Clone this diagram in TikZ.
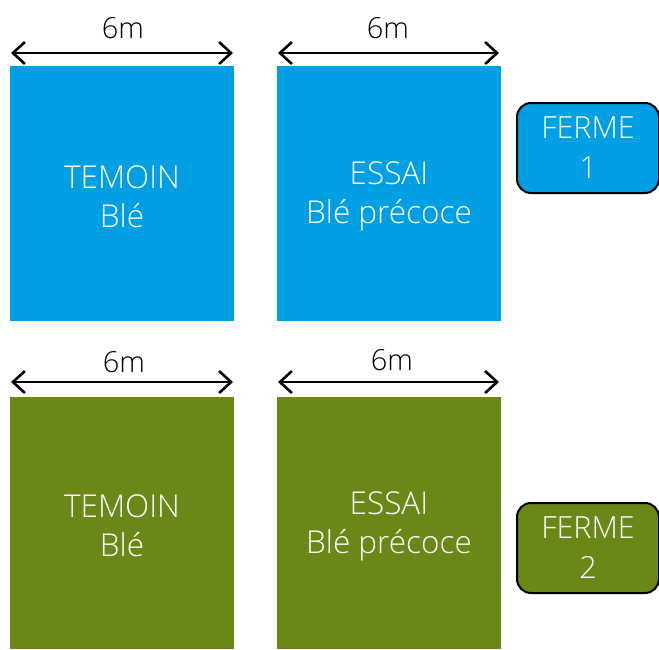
\documentclass[tikz,border=0pt]{standalone}
\usepackage{fontspec}
\IfFontExistsTF{Open Sans Light}{\setmainfont{Open Sans Light}}{\setmainfont{Open Sans}}
\usetikzlibrary{arrows.meta}
\definecolor{fblue}{HTML}{009FE3}
\definecolor{fgreen}{HTML}{6A8817}
\tikzset{
  plot/.style={anchor=north west, inner sep=0pt, outer sep=0pt, minimum width=224pt},
  plottext/.style={text=white, align=center, inner sep=0pt, yshift=-3pt, font=\fontsize{31.5}{39}\selectfont},
  ferme/.style={anchor=north west, draw=black, line width=2pt, rounded corners=14pt, minimum width=142pt, minimum height=90pt, inner sep=0pt, text=white, align=center, font=\fontsize{30.5}{40}\selectfont},
  dim/.style={line width=2.6pt, {Straight Barb[length=12pt,width=22pt,line width=2.6pt]}-{Straight Barb[length=12pt,width=22pt,line width=2.6pt]}},
  dimlabel/.style={font=\fontsize{29}{34}\selectfont, inner sep=0pt}
}
\begin{document}
\begin{tikzpicture}[x=1pt,y=1pt]
\useasboundingbox (0,0) rectangle (659,-649);
% blue row
\node[plot, fill=fblue, minimum height=255pt, label={[plottext]center:TEMOIN\\Blé}] (t1) at (10,-66) {};
\node[plot, fill=fblue, minimum height=255pt, label={[plottext]center:ESSAI\\Blé précoce}] (e1) at (277,-66) {};
% green row
\node[plot, fill=fgreen, minimum height=252pt, label={[plottext]center:TEMOIN\\Blé}] (t2) at (10,-397) {};
\node[plot, fill=fgreen, minimum height=252pt, label={[plottext]center:ESSAI\\Blé précoce}] (e2) at (277,-397) {};
% dims
\coordinate (a1l) at (11,-53); \coordinate (a1r) at (233,-53);
\coordinate (b1l) at (278,-53); \coordinate (b1r) at (499,-53);
\coordinate (a2l) at (11,-382); \coordinate (a2r) at (233,-382);
\coordinate (b2l) at (278,-382); \coordinate (b2r) at (499,-382);
\draw[dim] (a1l) -- (a1r);
\draw[dim] (b1l) -- (b1r);
\draw[dim] (a2l) -- (a2r);
\draw[dim] (b2l) -- (b2r);
\node[dimlabel] (l1) at (123,-28) {6m};
\node[dimlabel] (l2) at (388,-28) {6m};
\node[dimlabel] (l3) at (124,-362) {6m};
\node[dimlabel] (l4) at (392,-360) {6m};
% fermes
\node[ferme, fill=fblue] (f1) at (516,-102) {FERME\\1};
\node[ferme, fill=fgreen] (f2) at (516,-502) {FERME\\2};
\end{tikzpicture}
\end{document}
